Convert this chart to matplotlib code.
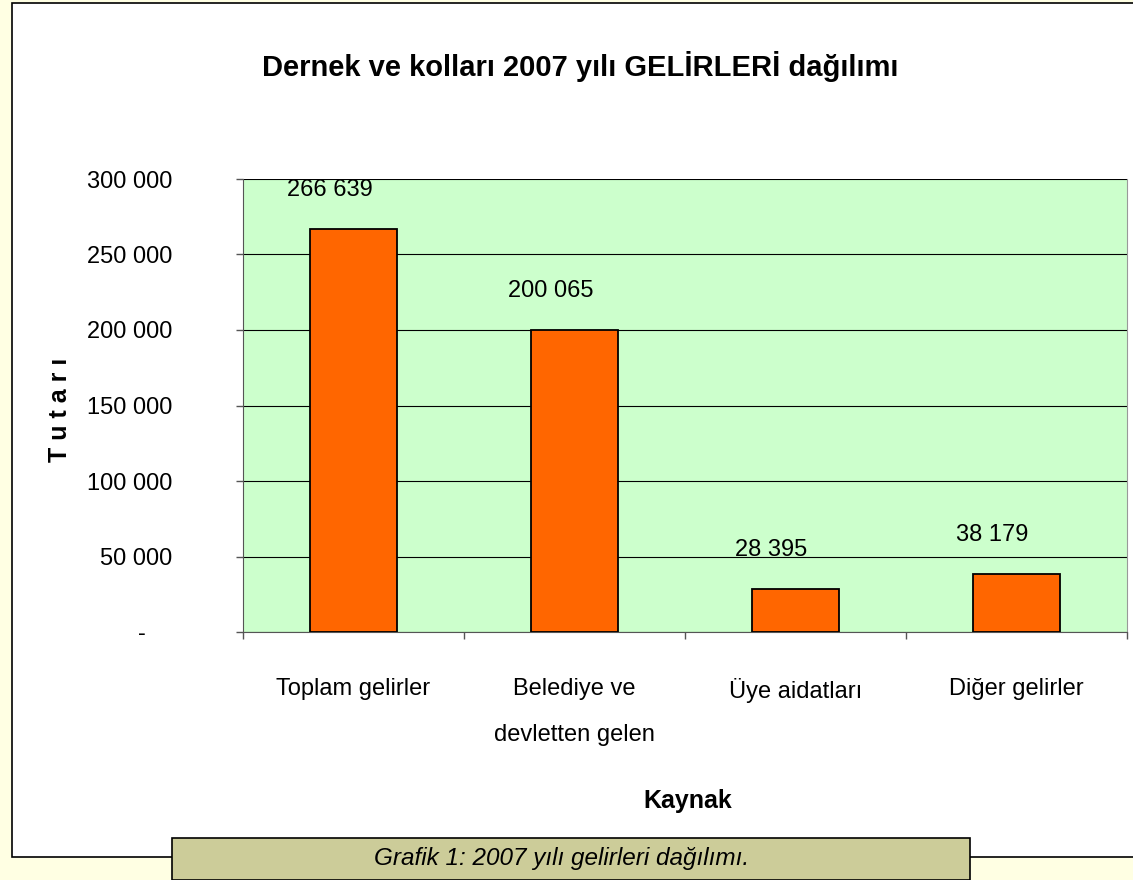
import matplotlib
matplotlib.use("Agg")
import matplotlib.pyplot as plt
from matplotlib.patches import Rectangle
from matplotlib.ticker import FixedLocator

categories = ["Toplam gelirler", "Belediye ve\ndevletten gelen", "Üye aidatları", "Diğer gelirler"]
values = [266639, 200065, 28395, 38179]
value_labels = ["266 639", "200 065", "28 395", "38 179"]
yticks = [0, 50000, 100000, 150000, 200000, 250000, 300000]
ytick_labels = ["-    ", "50 000", "100 000", "150 000", "200 000", "250 000", "300 000"]

plt.rcParams['font.family'] = ["Liberation Sans", "DejaVu Sans"]

W, H = 1133, 880
PX = 72 / 100  # points per pixel
fig = plt.figure(figsize=(W / 100, H / 100), dpi=100)
fig.patch.set_facecolor("#FFFFE3")

fig.patches.append(Rectangle((12 / W, 1 - 857 / H), (W - 12) / W + 0.01, (857 - 3) / H,
                             transform=fig.transFigure, facecolor="white",
                             edgecolor="black", linewidth=1.2, zorder=-5))

ax = fig.add_axes([243 / W, 1 - 632 / H, (1127 - 243) / W, (632 - 179) / H])
ax.set_facecolor("#CCFFCC")
x = list(range(len(categories)))
ax.bar(x, values, width=0.39, color="#FF6600", edgecolor="black", linewidth=1.3, zorder=3)
ax.set_xlim(-0.5, len(categories) - 0.5)
ax.set_ylim(0, 300000)

ax.set_yticks(yticks)
ax.set_yticklabels(ytick_labels, fontsize=17)
ax.yaxis.grid(True, color="black", linewidth=0.8, zorder=1)
ax.set_axisbelow(True)
ax.tick_params(axis="y", length=7 * PX, width=1, color="#555555", pad=(243 - 7 - 172) * PX)

ax.set_xticks(x)
ax.set_xticklabels(categories, fontsize=17, linespacing=2.4)
ax.tick_params(axis="x", length=0, pad=46 * PX)
ax.xaxis.set_minor_locator(FixedLocator([-0.5, 0.5, 1.5, 2.5, 3.5]))
ax.tick_params(axis="x", which="minor", length=7 * PX, width=1, color="#555555")

ax.spines["top"].set_visible(False)
ax.spines["left"].set_color("#555555")
ax.spines["bottom"].set_color("#555555")
ax.spines["right"].set_color("#999999")

for xi, v, t in zip(x, values, value_labels):
    ax.annotate(t, (xi, v), xytext=(-24, 39), textcoords="offset pixels",
                ha="center", va="center", fontsize=17, zorder=4)

fig.text(580 / W, 1 - 66 / H, "Dernek ve kolları 2007 yılı GELİRLERİ dağılımı",
         ha="center", va="center", fontsize=21, fontweight="bold")
fig.text(60 / W, 1 - 410 / H, "T u t a r ı", ha="center", va="center",
         rotation=90, fontsize=18, fontweight="bold")
fig.text(688 / W, 1 - 801 / H, "Kaynak", ha="center", va="center",
         fontsize=18, fontweight="bold")

fig.patches.append(Rectangle((172 / W, 0), (970 - 172) / W, (880 - 838) / H,
                             transform=fig.transFigure, facecolor="#CCCC99",
                             edgecolor="black", linewidth=1.2, zorder=5))
fig.text(562 / W, 1 - 858 / H, "Grafik 1: 2007 yılı gelirleri dağılımı.",
         ha="center", va="center", fontsize=17.5, style="italic", zorder=6)

fig.savefig("out.png", dpi=100, facecolor=fig.get_facecolor())
